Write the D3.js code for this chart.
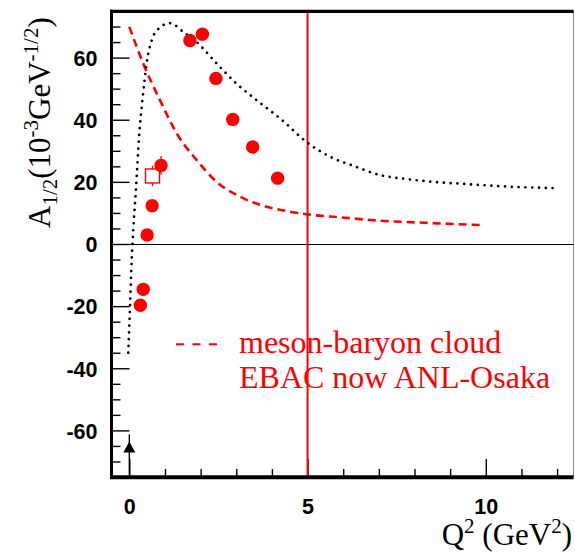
<!DOCTYPE html>
<html>
<head>
<meta charset="utf-8">
<script src="https://cdn.jsdelivr.net/npm/d3@7"></script>
<style>
  html, body { margin: 0; padding: 0; background: #fff; }
  svg { display: block; }
</style>
</head>
<body>
<svg id="chart" width="575" height="553"></svg>
<script>
// Helicity amplitude A1/2 versus Q^2

// Measured points (filled red circles)
const dataQ2 = [0.31, 0.39, 0.50, 0.64, 0.89, 1.70, 2.05, 2.43, 2.90, 3.46, 4.16];
const dataA  = [-19.7, -14.6, 2.9, 12.3, 25.3, 65.5, 67.5, 53.3, 40.1, 31.2, 21.2];
const dataErr = [0, 0, 0, 0, 3.0, 0, 0, 0, 0, 0, 0];

// Open square point
const squareQ2 = [0.65];
const squareA = [21.9];
const squareErr = [3.3];

// Photon point with arrow at Q^2 = 0
const arrowQ2 = [0];
const arrowA = [-65.5];
const arrowHi = [-61.3];

// Quark model curve (dotted black)
const dotQ2 = [-0.03, 0.02, 0.067, 0.11, 0.19, 0.28, 0.376, 0.49, 0.63, 0.82, 1.14, 1.52, 1.89, 2.45, 3.01, 3.57, 4.23, 5.0, 5.72, 6.28, 7.03, 7.78, 8.53, 9.47, 10.4, 11.9];
const dotA  = [-35, -20, -5, 4.5, 18.4, 35.6, 47.3, 58.6, 65.6, 69.3, 71.1, 68.2, 65.0, 58.1, 51.6, 46.3, 40.4, 32.6, 27.6, 25.2, 22.2, 20.9, 20.0, 19.3, 18.6, 18.0];

// Meson-baryon cloud curve (dashed red)
const mbQ2 = [0, 0.39, 0.86, 1.33, 1.89, 2.45, 3.11, 3.85, 4.51, 5.02, 5.91, 7.03, 8.16, 9.84];
const mbA  = [69.9, 58.1, 46.3, 35.6, 27.0, 20.0, 15.2, 12.0, 10.4, 9.5, 8.6, 7.5, 6.9, 6.1];

// Axis ticks
const xMajorTicks = [0, 5, 10];
const xMinorTicks = [1, 2, 3, 4, 6, 7, 8, 9, 11, 12];
const yMajorTicks = [-60, -40, -20, 0, 20, 40, 60];
const yMinorTicks = [-70, -65, -55, -50, -45, -35, -30, -25, -15, -10, -5, 5, 10, 15, 25, 30, 35, 45, 50, 55, 65, 70];

// Marker at Q^2 = 5 GeV^2
const markerQ2 = [5];

const legendLines = ["meson-baryon cloud", "EBAC now ANL-Osaka"];

const svg = d3.select("#chart");

const x = d3.scaleLinear().domain([-0.5, 12.46]).range([111.5, 573.5]);
const y = d3.scaleLinear().domain([-75, 75]).range([477, 11]);

const [x0, x1] = x.range();
const [yb, yt] = y.range();

// light outer frame
svg.append("rect")
  .attr("x", x0).attr("y", yt)
  .attr("width", x1 - x0).attr("height", yb - yt)
  .attr("fill", "none").attr("stroke", "#999").attr("stroke-width", 1.2);

// zero line
svg.append("line")
  .attr("x1", x0).attr("x2", x1)
  .attr("y1", y(0) + 0.5).attr("y2", y(0) + 0.5)
  .attr("stroke", "#000").attr("stroke-width", 1.2);

// y axis ticks (pointing inward)
const tickFont = "'Liberation Sans', Arial, sans-serif";
const plain = d => String(d);
const yMajor = svg.append("g").attr("transform", `translate(${x0},0)`)
  .call(d3.axisLeft(y).tickValues(yMajorTicks).tickSize(-18).tickPadding(14).tickFormat(plain));
const yMinor = svg.append("g").attr("transform", `translate(${x0},0)`)
  .call(d3.axisLeft(y).tickValues(yMinorTicks).tickSize(-9).tickFormat(""));

// x axis ticks (pointing inward)
const xMajor = svg.append("g").attr("transform", `translate(0,${yb})`)
  .call(d3.axisBottom(x).tickValues(xMajorTicks).tickSize(-18).tickPadding(22).tickFormat(plain));
const xMinor = svg.append("g").attr("transform", `translate(0,${yb})`)
  .call(d3.axisBottom(x).tickValues(xMinorTicks).tickSize(-8).tickFormat(""));

[yMajor, yMinor, xMajor, xMinor].forEach(g => {
  g.select(".domain").remove();
  g.selectAll(".tick line").attr("stroke", "#000").attr("stroke-width", 1.4);
  g.selectAll(".tick text")
    .attr("fill", "#000")
    .style("font-family", tickFont)
    .style("font-weight", "bold")
    .style("font-size", "21.5px");
});
yMajor.selectAll(".tick text").attr("dy", "0.36em");

// thick black frame sides: top, left, bottom
svg.append("line").attr("x1", x0 - 1.5).attr("x2", x1).attr("y1", yt + 0.3).attr("y2", yt + 0.3)
  .attr("stroke", "#000").attr("stroke-width", 3.2);
svg.append("line").attr("x1", x0).attr("x2", x0).attr("y1", yt - 1.2).attr("y2", yb + 2)
  .attr("stroke", "#000").attr("stroke-width", 3);
svg.append("line").attr("x1", x0 - 1.5).attr("x2", x1).attr("y1", yb + 0.3).attr("y2", yb + 0.3)
  .attr("stroke", "#000").attr("stroke-width", 4);

// vertical red marker line
svg.selectAll(".marker").data(markerQ2).enter().append("line")
  .attr("x1", d => x(d)).attr("x2", d => x(d))
  .attr("y1", yt + 1.5).attr("y2", yb - 2)
  .attr("stroke", "#ff0000").attr("stroke-width", 2);

const line = d3.line().x(d => x(d[0])).y(d => y(d[1])).curve(d3.curveMonotoneX);

// dashed red curve
svg.append("path")
  .datum(d3.zip(mbQ2, mbA))
  .attr("d", line)
  .attr("fill", "none").attr("stroke", "#ff0000")
  .attr("stroke-width", 2.6).attr("stroke-dasharray", "8,5");

// dotted black curve
svg.append("path")
  .datum(d3.zip(dotQ2, dotA))
  .attr("d", line)
  .attr("fill", "none").attr("stroke", "#000")
  .attr("stroke-width", 2.7).attr("stroke-linecap", "round")
  .attr("stroke-dasharray", "0.01,6.8");

// arrow point at Q^2 = 0
const arrows = d3.zip(arrowQ2, arrowA, arrowHi);
svg.selectAll(".arrowbar").data(arrows).enter().append("line")
  .attr("x1", d => x(d[0])).attr("x2", d => x(d[0]))
  .attr("y1", d => y(d[2])).attr("y2", yb - 2)
  .attr("stroke", "#000").attr("stroke-width", 1.4);
svg.selectAll(".arrowhead").data(arrows).enter().append("path")
  .attr("transform", d => `translate(${x(d[0])},${y(d[1])})`)
  .attr("d", "M0,-6 L6,5 L-6,5 Z")
  .attr("fill", "#000");

// data error bars
const pts = d3.zip(dataQ2, dataA, dataErr);
svg.selectAll(".err").data(pts.filter(d => d[2] > 0)).enter().append("line")
  .attr("x1", d => x(d[0])).attr("x2", d => x(d[0]))
  .attr("y1", d => y(d[1] + d[2])).attr("y2", d => y(d[1] - d[2]))
  .attr("stroke", "#ff0000").attr("stroke-width", 1.3);

// open square with error bar
const sq = d3.zip(squareQ2, squareA, squareErr);
svg.selectAll(".sqerr").data(sq).enter().append("line")
  .attr("x1", d => x(d[0])).attr("x2", d => x(d[0]))
  .attr("y1", d => y(d[1] + d[2])).attr("y2", d => y(d[1] - d[2]))
  .attr("stroke", "#ff0000").attr("stroke-width", 1.3);
svg.selectAll(".sq").data(sq).enter().append("rect")
  .attr("x", d => x(d[0]) - 7).attr("y", d => y(d[1]) - 7)
  .attr("width", 14).attr("height", 14)
  .attr("fill", "#fff").attr("stroke", "#ff0000").attr("stroke-width", 1.4);

// filled circles
svg.selectAll(".pt").data(pts).enter().append("circle")
  .attr("cx", d => x(d[0])).attr("cy", d => y(d[1]))
  .attr("r", 6.7).attr("fill", "#ff0000");

// legend
const serif = "'Liberation Serif', 'Times New Roman', serif";
svg.append("line")
  .attr("x1", 176).attr("x2", 220).attr("y1", 344.3).attr("y2", 344.3)
  .attr("stroke", "#ff0000").attr("stroke-width", 2).attr("stroke-dasharray", "8,8.5");
svg.selectAll(".legtext").data(legendLines).enter().append("text")
  .attr("x", 239).attr("y", (d, i) => 353 + i * 35)
  .attr("fill", "#ff0000")
  .style("font-family", serif).style("font-size", "32px")
  .text(d => d);

// x axis title
const xt = svg.append("text")
  .attr("x", 572).attr("y", 545)
  .attr("text-anchor", "end")
  .style("font-family", serif).style("font-size", "31px").attr("fill", "#000");
xt.append("tspan").text("Q");
xt.append("tspan").attr("dy", -12).style("font-size", "21px").text("2");
xt.append("tspan").attr("dy", 12).text(" (GeV");
xt.append("tspan").attr("dy", -12).style("font-size", "21px").text("2");
xt.append("tspan").attr("dy", 12).text(")");

// y axis title
const yt2 = svg.append("text")
  .attr("transform", "translate(50,228) rotate(-90)")
  .attr("text-anchor", "start")
  .style("font-family", serif).style("font-size", "31px").attr("fill", "#000");
yt2.append("tspan").text("A");
yt2.append("tspan").attr("dy", 7).style("font-size", "21px").text("1/2");
yt2.append("tspan").attr("dy", -7).text("(10");
yt2.append("tspan").attr("dy", -12).style("font-size", "21px").text("-3");
yt2.append("tspan").attr("dy", 12).text("GeV");
yt2.append("tspan").attr("dy", -12).style("font-size", "21px").text("-1/2");
yt2.append("tspan").attr("dy", 12).text(")");
</script>
</body>
</html>
